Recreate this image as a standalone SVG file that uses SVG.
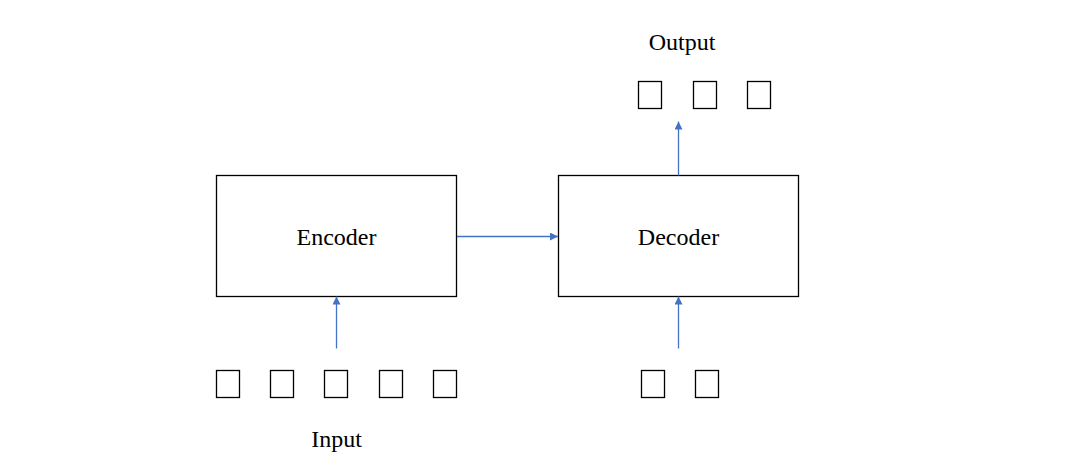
<svg xmlns="http://www.w3.org/2000/svg" width="1076" height="473" viewBox="0 0 1076 473">
<style>
.box{fill:#fff;stroke:#000;stroke-width:1.3}
.tok{fill:#fff;stroke:#000;stroke-width:1.3}
.lbl{font-family:"Liberation Serif","Times New Roman",serif;font-size:24px;fill:#000;text-anchor:middle}
.conn{stroke:#4472C4;stroke-width:1.3;fill:none;marker-end:url(#ah)}
</style>
<defs>
<marker id="ah" viewBox="0 0 10 10" refX="10" refY="5" markerWidth="8" markerHeight="8" markerUnits="userSpaceOnUse" orient="auto">
<path d="M0,0 L10,5 L0,10 z" fill="#4472C4"/>
</marker>
</defs>
<rect width="1076" height="473" fill="#fff"/>
<g id="encoder">
<rect class="box" x="216.5" y="175.5" width="240" height="121"/>
<text class="lbl" x="336.5" y="244.5">Encoder</text>
</g>
<g id="decoder">
<rect class="box" x="558.5" y="175.5" width="240" height="121"/>
<text class="lbl" x="678.5" y="244.5">Decoder</text>
</g>
<g id="input">
<rect class="tok" x="216.5" y="370.5" width="23" height="27"/>
<rect class="tok" x="270.5" y="370.5" width="23" height="27"/>
<rect class="tok" x="324.5" y="370.5" width="23" height="27"/>
<rect class="tok" x="379.5" y="370.5" width="23" height="27"/>
<rect class="tok" x="433.5" y="370.5" width="23" height="27"/>
<text class="lbl" x="336.5" y="447">Input</text>
</g>
<g id="decoder-input">
<rect class="tok" x="641.5" y="370.5" width="23" height="27"/>
<rect class="tok" x="695.5" y="370.5" width="23" height="27"/>
</g>
<g id="output">
<rect class="tok" x="638.5" y="81.5" width="23" height="27"/>
<rect class="tok" x="693.5" y="81.5" width="23" height="27"/>
<rect class="tok" x="747.5" y="81.5" width="23" height="27"/>
<text class="lbl" x="682" y="50">Output</text>
</g>
<g id="connectors">
<line class="conn" x1="336.5" y1="348.5" x2="336.5" y2="296.5"/>
<line class="conn" x1="678.5" y1="348.5" x2="678.5" y2="296.5"/>
<line class="conn" x1="457" y1="236.5" x2="558" y2="236.5"/>
<line class="conn" x1="678.5" y1="175.5" x2="678.5" y2="121.5"/>
</g>
</svg>
